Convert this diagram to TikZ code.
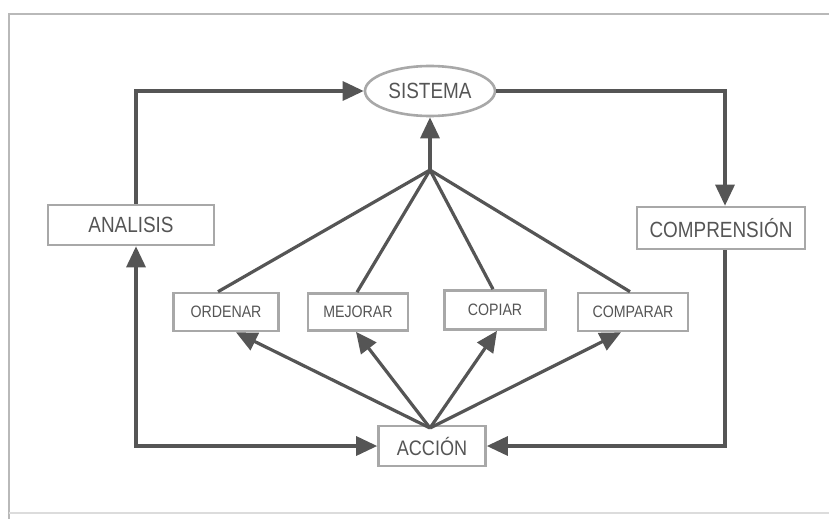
\documentclass[tikz,border=0pt]{standalone}
\usepackage{fontspec}
\setmainfont{Liberation Sans}
\newfontfamily\condfont[FakeStretch=0.86]{Liberation Sans}
\usetikzlibrary{arrows.meta,shapes.geometric}
\definecolor{linecol}{HTML}{555555}
\definecolor{boxcol}{HTML}{A8A8A8}
\definecolor{textcol}{HTML}{555555}
\begin{document}
\begin{tikzpicture}[x=1pt,y=-1pt,
  bigbox/.style={draw=boxcol,line width=2.6pt,fill=white,inner sep=0pt,text=textcol,font=\condfont\fontsize{22}{22}\selectfont},
  smallbox/.style={draw=boxcol,line width=2.6pt,fill=white,inner sep=0pt,text=textcol,font=\condfont\fontsize{16.5}{16.5}\selectfont},
  conn/.style={draw=linecol,line width=3.2pt},
  arr/.style={conn,-{Triangle[length=21pt,width=19pt]}},
  darr/.style={conn,{Triangle[length=21pt,width=19pt]}-{Triangle[length=21pt,width=19pt]}}]
\useasboundingbox (0,0) rectangle (829,519);
\draw[boxcol!80,line width=2pt] (829,14) -- (9,14) -- (9,519);
\draw[boxcol!40,line width=1.2pt] (9,513) -- (829,513);
% nodes
\node[draw=boxcol,line width=2.6pt,ellipse,minimum width=130pt,minimum height=50pt,inner sep=0pt,text=textcol,font=\condfont\fontsize{22}{22}\selectfont] (sis) at (430,91) {SISTEMA};
\node[bigbox,minimum width=166pt,minimum height=40pt] (ana) at (131,225) {ANALISIS};
\node[bigbox,minimum width=168pt,minimum height=42pt] (com) at (721,228) {COMPRENSIÓN};
\node[smallbox,minimum width=105pt,minimum height=38pt] (ord) at (226,312) {ORDENAR};
\node[smallbox,minimum width=100pt,minimum height=37pt] (mej) at (358,312) {MEJORAR};
\node[smallbox,minimum width=101pt,minimum height=39pt] (cop) at (495,310) {COPIAR};
\node[smallbox,minimum width=110pt,minimum height=38pt] (cmp) at (633,312) {COMPARAR};
\node[bigbox,minimum width=107pt,minimum height=40pt,font=\condfont\fontsize{21}{21}\selectfont] (acc) at (432,446) {ACCIÓN};
\coordinate (hub) at (430,170);
% hub
\draw[arr] (hub) -- (sis.south);
\draw[conn] (hub) -- (ord.north -| 218,0);
\draw[conn] (hub) -- (mej.north -| 357,0);
\draw[conn] (hub) -- (cop.north -| 493,0);
\draw[conn] (hub) -- (cmp.north -| 630,0);
% from accion
\coordinate (at) at (430,428);
\draw[arr] (at) -- (ord.south -| 236,0);
\draw[arr] (at) -- (mej.south -| 356,0);
\draw[arr] (at) -- (cop.south -| 497,0);
\draw[arr] (at) -- (cmp.south -| 621,0);
% loop
\draw[arr] (ana.north -| 136,0) |- (sis.west);
\draw[arr] (sis.east) -| (com.north -| 725,0);
\draw[arr] (com.south -| 725,0) |- (acc.east);
\draw[darr] (ana.south -| 136,0) |- (acc.west);
\end{tikzpicture}
\end{document}
